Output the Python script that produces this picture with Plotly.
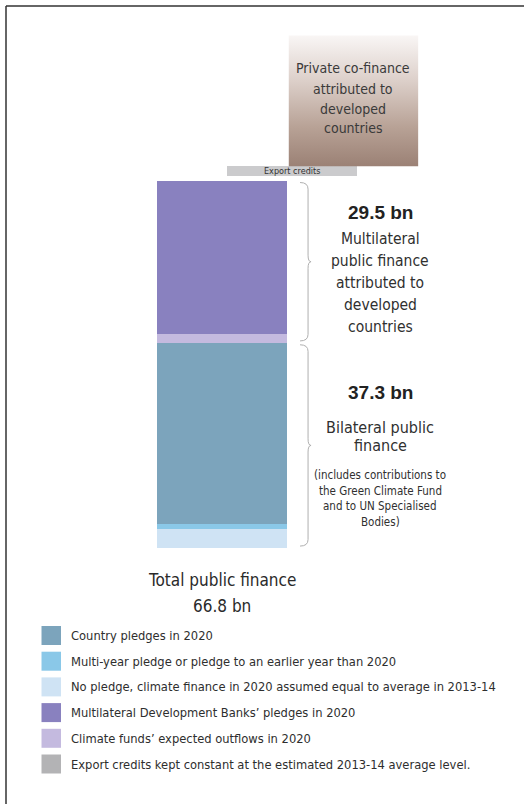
import plotly.graph_objects as go

# ---------------- Data (USD bn, 2020 projection) ----------------
bilateral_labels = [
    "Country pledges in 2020",
    "Multi-year pledge or pledge to an earlier year than 2020",
    "No pledge, climate finance in 2020 assumed equal to average in 2013-14",
]
bilateral_values = [32.9, 0.9, 3.5]
bilateral_colors = ["#7ca4bc", "#8ac8e8", "#cfe3f4"]

multilateral_labels = [
    "Multilateral Development Banks’ pledges in 2020",
    "Climate funds’ expected outflows in 2020",
]
multilateral_values = [27.8, 1.7]
multilateral_colors = ["#8981bf", "#c4badf"]

export_label = "Export credits kept constant at the estimated 2013-14 average level."
export_short = "Export credits"
export_value = 1.8
export_color = "#cbcbcd"
export_legend_color = "#b3b3b5"

private_label = ["Private co-finance", "attributed to", "developed", "countries"]
private_value = 23.8

multilateral_text = ["Multilateral", "public finance", "attributed to", "developed", "countries"]
bilateral_text = ["Bilateral public", "finance"]
bilateral_note = ["(includes contributions to", "the Green Climate Fund",
                  "and to UN Specialised", "Bodies)"]
total_text = "Total public finance"

# ---------------- Layout constants ----------------
W, H = 524, 804
M_T, M_B = 20, 256
PLOT_H = H - M_T - M_B
Y_MAX = 96
BAR_W = 1.0
MAIN_X = 0.0
EXPORT_X = 0.541
PRIVATE_X = 1.016
EXPORT_GAP = 0.8
X_RANGE = [-1.716, 2.334]

COND = "DejaVu Sans Condensed, Liberation Sans, sans-serif"
REGULAR = "Liberation Sans, Arial, sans-serif"
TXT = "#303030"


def pxx(p):
    return p / W


def pxy(p):
    return (H - M_B - p) / PLOT_H


fig = go.Figure()


def text_at(text, x, y, size, family=COND, color=TXT, xref="paper", xanchor="center"):
    fig.add_annotation(x=x, y=y, xref=xref, yref="paper", text=text, showarrow=False,
                       xanchor=xanchor, yanchor="middle",
                       font=dict(family=family, size=size, color=color))


# ---------------- Main stacked bar ----------------
bil_total = sum(bilateral_values)
mul_total = sum(multilateral_values)
total = bil_total + mul_total

stack_vals = list(reversed(bilateral_values)) + list(reversed(multilateral_values))
stack_cols = list(reversed(bilateral_colors)) + list(reversed(multilateral_colors))
stack_names = list(reversed(bilateral_labels)) + list(reversed(multilateral_labels))
base = 0.0
for v, c, n in zip(stack_vals, stack_cols, stack_names):
    fig.add_trace(go.Bar(x=[MAIN_X], y=[v], base=[base], width=BAR_W, name=n,
                         marker=dict(color=c, line=dict(width=0)), showlegend=False))
    base += v

# Export credits
export_base = total + EXPORT_GAP
fig.add_trace(go.Bar(x=[EXPORT_X], y=[export_value], base=[export_base], width=BAR_W,
                     name=export_short, marker=dict(color=export_color, line=dict(width=0)),
                     showlegend=False))
fig.add_annotation(x=EXPORT_X, y=export_base + export_value / 2, xref="x", yref="y",
                   text=export_short, showarrow=False, xanchor="center", yanchor="middle",
                   font=dict(family=COND, size=9, color="#333333"))

# Private co-finance (gradient box)
p_base = export_base + export_value
p_top = p_base + private_value
x0, x1 = PRIVATE_X - BAR_W / 2, PRIVATE_X + BAR_W / 2
fig.add_trace(go.Scatter(
    x=[x0, x1, x1, x0, x0], y=[p_base, p_base, p_top, p_top, p_base],
    mode="lines", line=dict(width=0), fill="toself", hoverinfo="skip",
    fillgradient=dict(type="vertical", start=p_base, stop=p_top,
                      colorscale=[[0, "#9b8175"], [0.3, "#b8a296"],
                                  [0.65, "#dccfc9"], [1, "#f9f6f5"]]),
    showlegend=False))
for i, line in enumerate(private_label):
    text_at(line, PRIVATE_X, pxy(68.5 + 20 * i), 14, color="#3a3a3a", xref="x")


# ---------------- Braces ----------------
def brace(yt, yb, xa=0.603, xm=0.665, xb=0.688, d=1.2):
    ym = (yt + yb) / 2
    return (f"M {xa},{yt} Q {xm},{yt} {xm},{yt - d} L {xm},{ym + d} "
            f"Q {xm},{ym} {xb},{ym} Q {xm},{ym} {xm},{ym - d} "
            f"L {xm},{yb + d} Q {xm},{yb} {xa},{yb}")


pad = 0.35
for yt, yb in [(total - pad, bil_total + pad), (bil_total - pad, 0 + pad)]:
    fig.add_shape(type="path", path=brace(yt, yb), xref="x", yref="y",
                  line=dict(color="#b0b0b0", width=1))

# ---------------- Right-hand texts ----------------
RX = pxx(380)
text_at(f"<b>{mul_total:.1f} bn</b>", RX, pxy(212.5), 19, family=REGULAR, color="#222222")
for i, line in enumerate(multilateral_text):
    text_at(line, RX, pxy(239 + 21.9 * i), 15.5)

text_at(f"<b>{bil_total:.1f} bn</b>", RX, pxy(392), 19, family=REGULAR, color="#222222")
for i, line in enumerate(bilateral_text):
    text_at(line, RX, pxy(427 + 18.5 * i), 16)
for i, line in enumerate(bilateral_note):
    text_at(line, RX, pxy(475 + 15.5 * i), 11.5)

# Total
text_at(total_text, MAIN_X, pxy(580), 17, color="#2a2a2a", xref="x")
text_at(f"{total:.1f} bn", MAIN_X, pxy(605.5), 17, color="#2a2a2a", xref="x")

# ---------------- Legend ----------------
legend_labels = [bilateral_labels[0], bilateral_labels[1], bilateral_labels[2],
                 multilateral_labels[0], multilateral_labels[1], export_label]
legend_colors = [bilateral_colors[0], bilateral_colors[1], bilateral_colors[2],
                 multilateral_colors[0], multilateral_colors[1], export_legend_color]
for i, (lab, col) in enumerate(zip(legend_labels, legend_colors)):
    top = 626 + 25.7 * i
    fig.add_shape(type="rect", xref="paper", yref="paper",
                  x0=pxx(41.5), x1=pxx(61), y0=pxy(top), y1=pxy(top + 19),
                  fillcolor=col, line=dict(width=0))
    text_at(lab, pxx(68.5), pxy(top + 9.5), 12.8, color="#2e2e2e", xanchor="left")

# ---------------- Frame lines (top & left) ----------------
fig.add_shape(type="line", xref="paper", yref="paper", x0=pxx(6), x1=1.0,
              y0=pxy(6), y1=pxy(6), line=dict(color="#333333", width=1.5))
fig.add_shape(type="line", xref="paper", yref="paper", x0=pxx(6), x1=pxx(6),
              y0=pxy(6), y1=pxy(H), line=dict(color="#333333", width=1.5))

fig.update_layout(
    width=W, height=H, barmode="overlay", bargap=0,
    margin=dict(l=0, r=0, t=M_T, b=M_B),
    paper_bgcolor="white", plot_bgcolor="white",
    xaxis=dict(range=X_RANGE, visible=False, fixedrange=True),
    yaxis=dict(range=[0, Y_MAX], visible=False, fixedrange=True),
    showlegend=False,
)

fig.write_html("out.html", config={"displayModeBar": False},
               post_script="document.body.style.margin='0';")
